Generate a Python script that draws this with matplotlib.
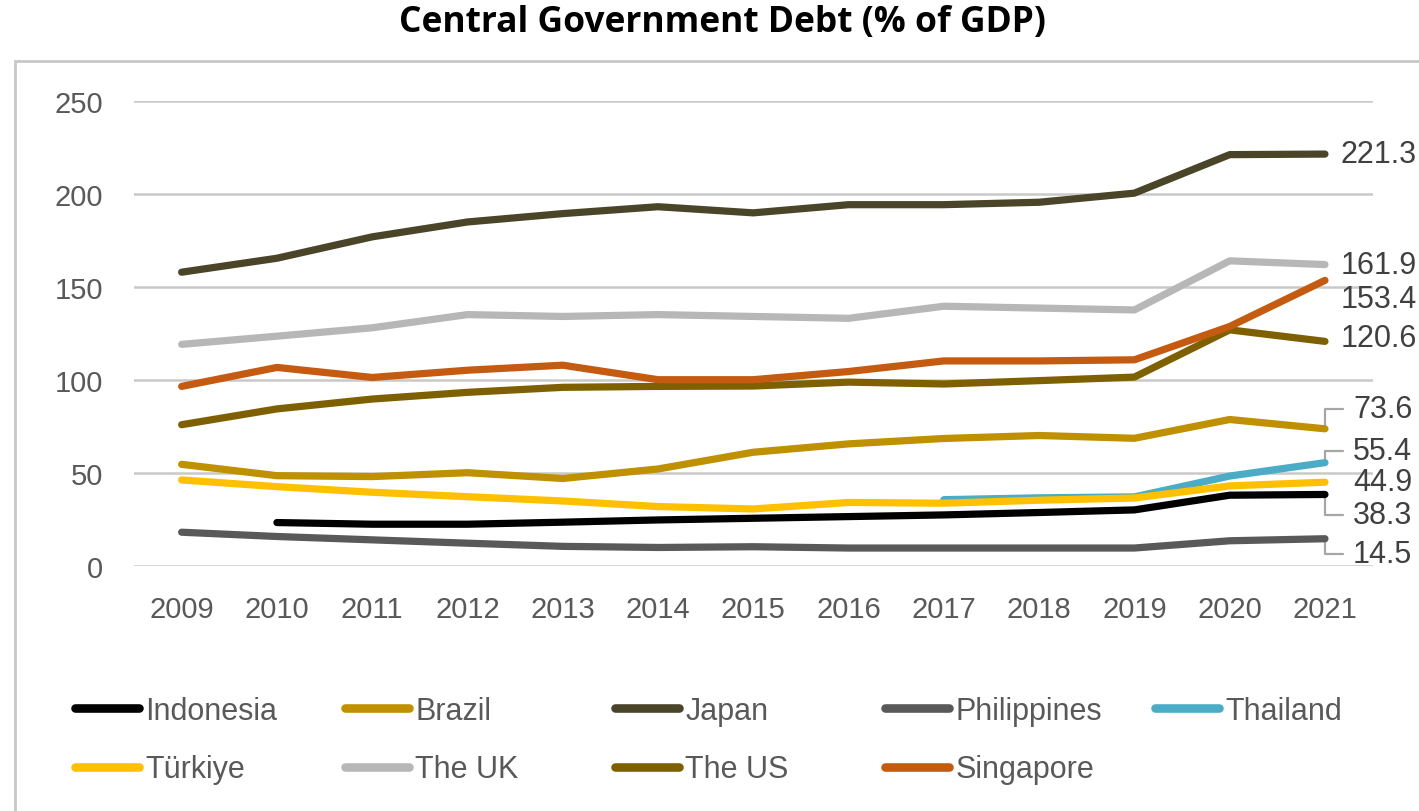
import numpy as np
import matplotlib
matplotlib.use("Agg")
import matplotlib.pyplot as plt
from matplotlib.lines import Line2D
from matplotlib.patches import Rectangle

plt.rcParams['font.family'] = ['Liberation Sans', 'DejaVu Sans']

## Central government debt, % of GDP
years = [2009, 2010, 2011, 2012, 2013, 2014, 2015, 2016, 2017, 2018, 2019, 2020, 2021]
nan = np.nan
indonesia = [nan, 23.2, 22.3, 22.3, 23.4, 24.6, 25.5, 26.4, 27.3, 28.6, 30.0, 37.9, 38.3]
brazil = [54.5, 48.4, 47.9, 50.0, 46.9, 52.0, 61.0, 65.5, 68.4, 70.0, 68.5, 78.6, 73.6]
japan = [157.8, 165.3, 176.8, 184.8, 189.3, 193.0, 189.7, 194.1, 194.1, 195.4, 200.3, 221.0, 221.3]
philippines = [18.0, 15.7, 13.9, 12.1, 10.4, 9.8, 10.2, 9.5, 9.5, 9.5, 9.5, 13.4, 14.5]
thailand = [nan, nan, nan, nan, nan, nan, nan, nan, 35.5, 36.5, 37.0, 48.2, 55.4]
turkiye = [46.1, 42.5, 39.5, 37.1, 34.8, 31.8, 30.5, 34.0, 33.6, 35.2, 36.4, 42.9, 44.9]
uk = [119.0, 123.4, 127.9, 135.0, 134.0, 135.0, 134.0, 133.0, 139.5, 138.5, 137.5, 163.9, 161.9]
us = [75.8, 84.3, 89.6, 93.2, 95.9, 96.4, 96.6, 98.7, 97.7, 99.5, 101.4, 126.8, 120.6]
singapore = [96.4, 106.6, 101.2, 105.1, 107.8, 100.0, 100.0, 104.4, 110.1, 110.1, 110.7, 128.6, 153.4]

names = ['Indonesia', 'Brazil', 'Japan', 'Philippines', 'Thailand',
         'Türkiye', 'The UK', 'The US', 'Singapore']
series = [indonesia, brazil, japan, philippines, thailand, turkiye, uk, us, singapore]
colors = ['#000000', '#BF9000', '#4A4429', '#595959', '#4BACC6',
          '#FFC000', '#B7B7B7', '#7F6000', '#C55A11']

# end label placement: (dx px, dy px, leader line)
label_pos = {
    'Indonesia': (28, -21, True),
    'Brazil': (28, 20, True),
    'Japan': (16, 0, False),
    'Philippines': (28, -15, True),
    'Thailand': (28, 12, True),
    'Türkiye': (28, 0, False),
    'The UK': (16, 0, False),
    'The US': (16, 3, False),
    'Singapore': (16, -19, False),
}

W, H = 1419, 812
fig = plt.figure(figsize=(W / 100, H / 100), dpi=100)
ax = fig.add_axes([134 / W, 1 - 566.7 / H, (1372.6 - 134) / W, (566.7 - 101.7) / H])

for name, vals, c in zip(names, series, colors):
    ax.plot(years, vals, color=c, lw=5.2, solid_capstyle='round',
            solid_joinstyle='round', zorder=2)
    v = vals[-1]
    dx, dy, leader = label_pos[name]
    kw = {}
    if leader:
        kw['arrowprops'] = dict(arrowstyle='-', color='#A6A6A6', lw=1.6,
                                connectionstyle='angle,angleA=0,angleB=90,rad=0',
                                relpos=(0, 0.5), patchA=None, shrinkA=7, shrinkB=0)
    ax.annotate(f'{v:.1f}', xy=(years[-1], v), xytext=(dx * 0.72, dy * 0.72),
                textcoords='offset points', ha='left', va='center',
                fontsize=22, color='#404040', annotation_clip=False, zorder=1.5, **kw)

ax.set_xlim(2008.5, 2021.5)
ax.set_ylim(0, 250)
ax.set_yticks(np.arange(0, 251, 50))
ax.set_xticks(years)
ax.tick_params(axis='both', length=0, labelsize=21, labelcolor='#595959')
ax.tick_params(axis='y', pad=22)
ax.tick_params(axis='x', pad=21)
ax.yaxis.grid(True, color='#C9C9C9', lw=1.8)
ax.set_axisbelow(True)
for s in ax.spines.values():
    s.set_visible(False)

# chart border
fig.patches.append(Rectangle((15 / W, -0.2), 1.2, 1.2 - 62 / H,
                             transform=fig.transFigure, fill=False,
                             edgecolor='#C8C8C8', lw=2))

fig.text(722 / W, 1 - 23 / H, 'Central Government Debt (% of GDP)',
         ha='center', va='center', fontsize=25.5, fontweight='bold',
         family='Open Sans')

# legend, five evenly spaced columns
for col in range(5):
    idx = [i for i in (col, col + 5) if i < len(names)]
    handles = [Line2D([], [], color=colors[i], lw=6.2, solid_capstyle='round') for i in idx]
    fig.legend(handles, [names[i] for i in idx], loc='upper left',
               bbox_to_anchor=((75 + 270 * col) / W, 1 - 697 / H),
               frameon=False, fontsize=22, handlelength=2.1, handletextpad=0.2,
               labelspacing=0.93, borderpad=0, borderaxespad=0, labelcolor='#595959')

fig.savefig('out.png', dpi=100)
